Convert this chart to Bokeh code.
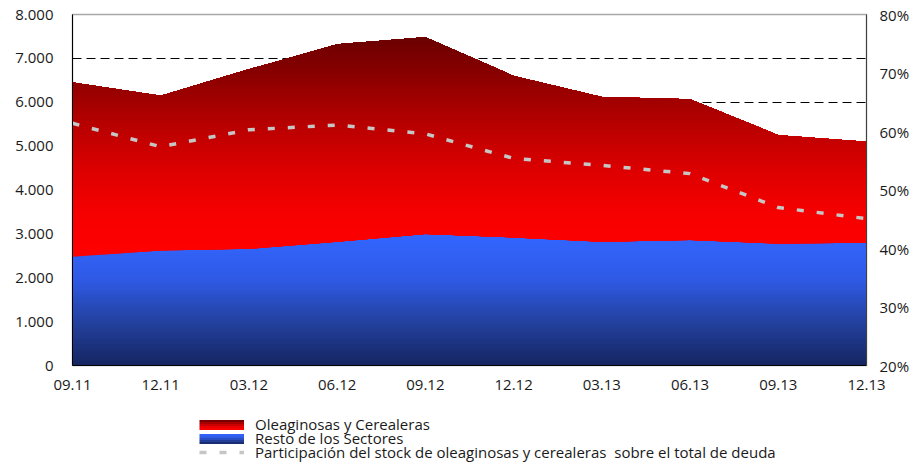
import numpy as np
from bokeh.plotting import figure
from bokeh.layouts import column
from bokeh.models import Range1d, LinearAxis, FixedTicker, Legend, LegendItem
from bokeh.embed import file_html
from bokeh.resources import INLINE

# ---------------- data ----------------
periods = ["09.11", "12.11", "03.12", "06.12", "09.12", "12.12", "03.13", "06.13", "09.13", "12.13"]
resto_sectores = [2480, 2620, 2660, 2820, 3000, 2920, 2820, 2860, 2780, 2800]
oleaginosas_cerealeras = [3970, 3530, 4090, 4500, 4480, 3680, 3300, 3210, 2470, 2300]
participacion = [61.4, 57.4, 60.3, 61.1, 59.6, 55.4, 54.2, 52.8, 47.0, 45.1]

left_ticks = [0, 1000, 2000, 3000, 4000, 5000, 6000, 7000, 8000]
left_labels = ["0", "1.000", "2.000", "3.000", "4.000", "5.000", "6.000", "7.000", "8.000"]
right_ticks = [20, 30, 40, 50, 60, 70, 80]
right_labels = ["20%", "30%", "40%", "50%", "60%", "70%", "80%"]
grid_ticks = [1000, 2000, 3000, 4000, 5000, 6000, 7000]
legend_labels = ["Oleaginosas y Cerealeras", "Resto de los Sectores",
                 "Participación del stock de oleaginosas y cerealeras  sobre el total de deuda"]

# ---------------- styles ----------------
FONT = "Open Sans"
TXT = "#1a1a1a"
W = 912
H_MAIN = 405
H_LEG = 57
red_stops_v = [0.0, 0.2, 0.4, 0.6, 0.8, 1.0]
red_stops_c = ["#ff0000", "#f60000", "#dc0000", "#b80000", "#900000", "#6a0000"]
blue_stops_v = [0.0, 0.33, 0.66, 1.0]
blue_stops_c = ["#152560", "#23419f", "#2f5ae6", "#3366ff"]
LINE_COLOR = "#c6c6c6"


def hex2rgb(h):
    h = h.lstrip("#")
    return [int(h[i:i + 2], 16) for i in (0, 2, 4)]


def color_at(f, sv, sc):
    rgb = np.array([hex2rgb(c) for c in sc], dtype=float)
    r = [int(round(np.interp(f, sv, rgb[:, k]))) for k in range(3)]
    return "#%02x%02x%02x" % tuple(r)


x = np.arange(len(periods), dtype=float)
base_blue = np.zeros(len(periods))
top_blue = np.array(resto_sectores, dtype=float)
top_red = top_blue + np.array(oleaginosas_cerealeras, dtype=float)

p = figure(width=W, height=H_MAIN, output_backend="svg", toolbar_location=None,
           x_range=Range1d(0, len(periods) - 1), y_range=Range1d(0, 8000),
           min_border_left=72, min_border_right=W - 870, min_border_top=14,
           min_border_bottom=H_MAIN - 365)
p.background_fill_color = "white"
p.border_fill_color = "white"
p.outline_line_color = "#a8a8a8"
p.outline_line_width = 1.5


def gradient_area(base, top, n, sv, sc):
    lo_min, hi_max = base.min(), top.max()
    levels = np.linspace(lo_min, hi_max, n + 1)[:-1]
    for lo in levels:
        xs = list(x)
        for f in (base, top):
            for j in range(len(x) - 1):
                a, b = f[j] - lo, f[j + 1] - lo
                if a * b < 0:
                    t = a / (a - b)
                    xs.append(x[j] + t * (x[j + 1] - x[j]))
        xs = np.unique(np.array(xs))
        b_ = np.interp(xs, x, base)
        t_ = np.interp(xs, x, top)
        lower = np.minimum(np.maximum(b_, lo), t_)
        frac = (lo + (hi_max - lo_min) / n * 0.5 - lo_min) / (hi_max - lo_min)
        p.varea(x=xs, y1=lower, y2=t_, fill_color=color_at(frac, sv, sc))


gradient_area(base_blue, top_blue, 60, blue_stops_v, blue_stops_c)
gradient_area(top_blue, top_red, 90, red_stops_v, red_stops_c)

p.extra_y_ranges = {"pct": Range1d(20, 80)}
p.line(x, participacion, y_range_name="pct", line_color=LINE_COLOR,
       line_width=3.5, line_dash="7 13")

# axes
p.xaxis.ticker = FixedTicker(ticks=list(x))
p.xaxis.major_label_overrides = {float(i): s for i, s in enumerate(periods)}
p.xaxis.major_tick_out = 0
p.xaxis.major_tick_in = 0
p.xaxis.minor_tick_line_color = None
p.xaxis.axis_line_color = "black"
p.xaxis.major_label_standoff = 14

p.yaxis.ticker = FixedTicker(ticks=left_ticks)
p.yaxis.major_label_overrides = dict(zip(left_ticks, left_labels))
p.yaxis.major_tick_out = 0
p.yaxis.major_tick_in = 0
p.yaxis.minor_tick_line_color = None
p.yaxis.axis_line_color = "black"
p.yaxis.major_label_standoff = 19

ra = LinearAxis(y_range_name="pct", ticker=FixedTicker(ticks=right_ticks),
                major_label_overrides=dict(zip(right_ticks, right_labels)))
ra.major_tick_out = 0
ra.major_tick_in = 0
ra.minor_tick_line_color = None
ra.axis_line_color = "#404040"
ra.major_label_standoff = 13
p.add_layout(ra, "right")

for ax in (p.xaxis[0], p.yaxis[0], ra):
    ax.major_label_text_font = FONT
    ax.major_label_text_font_size = "15px"
    ax.major_label_text_color = TXT

p.xgrid.grid_line_color = None
p.ygrid.ticker = FixedTicker(ticks=grid_ticks)
p.ygrid.grid_line_color = "black"
p.ygrid.grid_line_dash = "9 5"
p.ygrid.grid_line_width = 1

# ---------------- legend (own small figure) ----------------
lf = figure(width=W, height=H_LEG, output_backend="svg", toolbar_location=None,
            x_range=Range1d(0, 1), y_range=Range1d(0, 1),
            min_border=0, outline_line_color=None)
lf.axis.visible = False
lf.grid.visible = False


def add_legend(items, loc, **kw):
    opts = dict(location=loc, orientation="vertical", padding=0, margin=0, spacing=0,
                border_line_color=None, background_fill_alpha=0,
                label_text_font=FONT, label_text_font_size="15px", label_text_color=TXT)
    opts.update(kw)
    lg = Legend(items=items, **opts)
    lf.add_layout(lg)
    return lg


XL = 127          # swatch left, relative to plot frame
SW = 45           # swatch width
XT = 183          # text left, relative to plot frame
TEXT_H = 20
row_centers = [424, 438, 452]
# legend-only renderers: same series, drawn far outside this small figure's range
blank = lf.line(x=x, y=top_red, line_color=None)

# text rows
for lab, c in zip(legend_labels, row_centers):
    add_legend([LegendItem(label=lab, renderers=[blank])],
               (XT, H_MAIN + H_LEG - (c + TEXT_H / 2)),
               glyph_width=0, glyph_height=1, label_standoff=0, label_height=TEXT_H)

# gradient swatches (stacked, overlapping thin strokes)
NSTRIP = 5
STRIP = 2
for (top_px, sv, sc) in [(420, red_stops_v, red_stops_c),
                         (434, blue_stops_v, blue_stops_c)]:
    items = []
    for k in range(NSTRIP):
        f = 1 - (k + 0.5) / NSTRIP
        r = lf.line(x=x, y=top_red, line_color=color_at(f, sv, sc), line_width=4, line_cap="butt")
        items.append(LegendItem(label=" ", renderers=[r]))
    add_legend(items, (XL, H_MAIN + H_LEG - (top_px + NSTRIP * STRIP)),
               glyph_width=SW, glyph_height=STRIP, label_standoff=0, label_height=STRIP,
               label_text_font_size="1px")

# dashed line swatch
dash_r = lf.line(x=x, y=top_red, line_color=LINE_COLOR, line_width=3.5, line_dash="7 13")
add_legend([LegendItem(label=" ", renderers=[dash_r])],
           (XL, H_MAIN + H_LEG - (452 + 4)),
           glyph_width=SW, glyph_height=8, label_standoff=0, label_height=8,
           label_text_font_size="1px")

open("out.html", "w").write(file_html(column(p, lf, spacing=0), INLINE))
